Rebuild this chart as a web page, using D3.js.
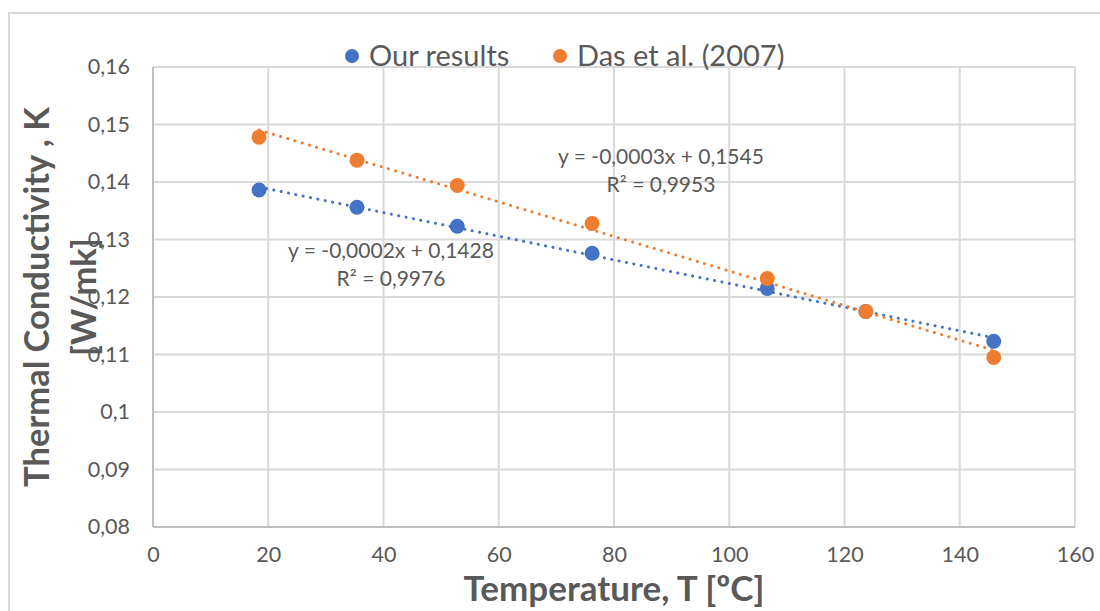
<!DOCTYPE html>
<html><head><meta charset="utf-8">
<script src="https://cdn.jsdelivr.net/npm/d3@7"></script>
<style>body{margin:0;background:#fff;}svg{display:block;}</style>
</head><body>
<svg id="c" width="1100" height="611"></svg>
<script>
const seriesNames = ["Our results", "Das et al. (2007)"];
const seriesColors = ["#4472C4", "#ED7D31"];
const temperature = [18.4, 35.4, 52.8, 76.2, 106.6, 123.7, 145.9];
const ourResults = [0.1386, 0.1356, 0.1323, 0.1276, 0.1215, 0.1175, 0.1123];
const dasEtAl = [0.1478, 0.1438, 0.1394, 0.1328, 0.1232, 0.1175, 0.1095];
const xTicks = [0, 20, 40, 60, 80, 100, 120, 140, 160];
const yTicks = [0.08, 0.09, 0.10, 0.11, 0.12, 0.13, 0.14, 0.15, 0.16];
const trendLabels = [
  ["y = -0,0002x + 0,1428", "R² = 0,9976"],
  ["y = -0,0003x + 0,1545", "R² = 0,9953"]
];

const svg = d3.select("#c");
const font = "Lato, 'Open Sans', sans-serif";
const L = 153, R = 1075, T = 67, B = 527;
const x = d3.scaleLinear().domain([0, 160]).range([L, R]);
const y = d3.scaleLinear().domain([0.08, 0.16]).range([B, T]);

// outer chart border
svg.append("rect").attr("x", 9).attr("y", 13).attr("width", 1100).attr("height", 620)
  .attr("fill", "none").attr("stroke", "#d9d9d9").attr("stroke-width", 2);

// gridlines
svg.append("g").selectAll("line").data(yTicks).join("line")
  .attr("x1", L).attr("x2", R).attr("y1", d => y(d)).attr("y2", d => y(d))
  .attr("stroke", "#d9d9d9").attr("stroke-width", 2);
svg.append("g").selectAll("line").data(xTicks).join("line")
  .attr("y1", T).attr("y2", B).attr("x1", d => x(d)).attr("x2", d => x(d))
  .attr("stroke", "#d9d9d9").attr("stroke-width", 2);
// axis lines
svg.append("line").attr("x1", L).attr("x2", L).attr("y1", T).attr("y2", B).attr("stroke", "#bfbfbf").attr("stroke-width", 2);
svg.append("line").attr("x1", L).attr("x2", R).attr("y1", B).attr("y2", B).attr("stroke", "#bfbfbf").attr("stroke-width", 2);

// axes via d3
const fmt = d => String(+d.toFixed(2)).replace(".", ",");
const yAxis = svg.append("g").attr("transform", `translate(${L},0)`)
  .call(d3.axisLeft(y).tickValues(yTicks).tickSize(0).tickPadding(23).tickFormat(fmt));
const xAxis = svg.append("g").attr("transform", `translate(0,${B})`)
  .call(d3.axisBottom(x).tickValues(xTicks).tickSize(0).tickPadding(20).tickFormat(d => d));
[yAxis, xAxis].forEach(a => {
  a.select(".domain").remove();
  a.selectAll("text").attr("font-family", font).attr("font-size", 21.5).attr("fill", "#595959");
});

// trendlines (least squares)
function fit(xs, ys) {
  const n = xs.length, mx = d3.mean(xs), my = d3.mean(ys);
  let sxy = 0, sxx = 0;
  for (let i = 0; i < n; i++) { sxy += (xs[i]-mx)*(ys[i]-my); sxx += (xs[i]-mx)**2; }
  const m = sxy / sxx; return [m, my - m*mx];
}
const allSeries = [ourResults, dasEtAl];
allSeries.forEach((ys, i) => {
  const [m, b] = fit(temperature, ys);
  const x0 = d3.min(temperature), x1 = d3.max(temperature);
  svg.append("line")
    .attr("x1", x(x0)).attr("y1", y(m*x0+b)).attr("x2", x(x1)).attr("y2", y(m*x1+b))
    .attr("stroke", seriesColors[i]).attr("stroke-width", 3)
    .attr("stroke-dasharray", "0.1 7.4").attr("stroke-linecap", "round");
});

// points
allSeries.forEach((ys, i) => {
  svg.append("g").selectAll("circle").data(ys).join("circle")
    .attr("cx", (d, j) => x(temperature[j])).attr("cy", d => y(d)).attr("r", 7.5)
    .attr("fill", seriesColors[i]);
});

// trendline labels
const labelPos = [[391, 258], [661, 164]];
trendLabels.forEach((lines, i) => {
  lines.forEach((t, k) => {
    svg.append("text").attr("x", labelPos[i][0]).attr("y", labelPos[i][1] + k*28)
      .attr("text-anchor", "middle").attr("font-family", font).attr("font-size", 21)
      .attr("fill", "#595959").text(t);
  });
});

// legend
const legX = [352, 560];
seriesNames.forEach((n, i) => {
  svg.append("circle").attr("cx", legX[i]).attr("cy", 56).attr("r", 7).attr("fill", seriesColors[i]);
  svg.append("text").attr("x", legX[i] + 17).attr("y", 66).attr("font-family", font)
    .attr("font-size", 29).attr("fill", "#595959").text(n);
});

// axis titles
svg.append("text").attr("x", 614).attr("y", 601).attr("text-anchor", "middle")
  .attr("font-family", font).attr("font-size", 35).attr("font-weight", "bold")
  .attr("fill", "#595959").text("Temperature, T [ºC]");
const yt = svg.append("text").attr("transform", `translate(0,297) rotate(-90)`)
  .attr("text-anchor", "middle").attr("font-family", font).attr("font-size", 34.5)
  .attr("font-weight", "bold").attr("fill", "#595959");
yt.append("tspan").attr("x", 0).attr("y", 49).text("Thermal Conductivity , K");
yt.append("tspan").attr("x", 0).attr("y", 96).text("[W/mk]");
</script>
</body></html>
